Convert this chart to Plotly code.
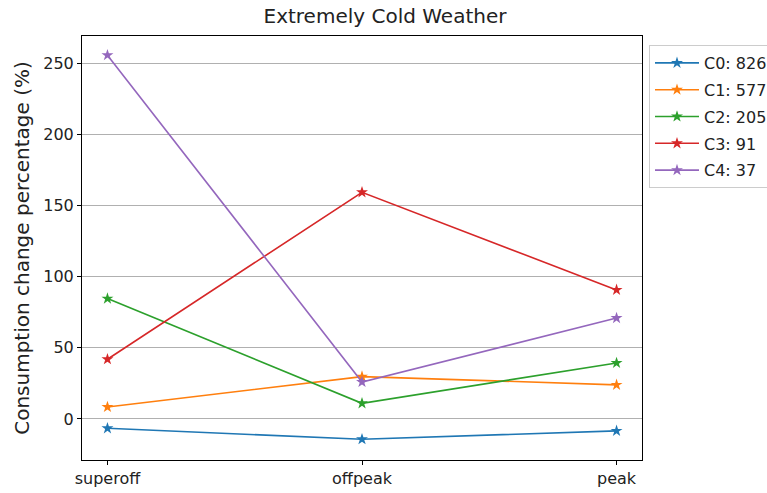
import plotly.graph_objects as go

categories = ["superoff", "offpeak", "peak"]
series_names = ["C0: 826", "C1: 577", "C2: 205", "C3: 91", "C4: 37"]
c0 = [-6.6, -14.3, -8.4]
c1 = [8.4, 29.8, 24.0]
c2 = [84.7, 11.0, 39.4]
c3 = [42.0, 159.5, 90.8]
c4 = [256.0, 26.0, 71.0]
series_values = [c0, c1, c2, c3, c4]
colors = ["#1f77b4", "#ff7f0e", "#2ca02c", "#d62728", "#9467bd"]
y_ticks = [0, 50, 100, 150, 200, 250]

fig = go.Figure()
for i, (name, vals, col) in enumerate(zip(series_names, series_values, colors)):
    fig.add_trace(go.Scatter(
        x=list(range(len(categories))), y=vals, name=name, mode="lines+markers",
        legendgroup=f"g{i}",
        line=dict(color=col, width=1.6),
        marker=dict(symbol="star", size=9, color=col),
    ))

fig.update_layout(
    width=767, height=493,
    margin=dict(l=82, r=125, t=36, b=33, autoexpand=False),
    paper_bgcolor="white", plot_bgcolor="white",
    font=dict(family="DejaVu Sans", size=16, color="#222"),
    title=dict(text="Extremely Cold Weather", x=385 / 767, xanchor="center",
               y=1 - 16 / 493, yanchor="middle", font=dict(size=20)),
    legend=dict(xref="container", yref="container", x=649 / 767, y=1 - 45 / 493,
                xanchor="left", yanchor="top",
                bordercolor="#cccccc", borderwidth=1, bgcolor="white",
                font=dict(size=16), tracegroupgap=3, itemwidth=44,
                traceorder="grouped"),
    showlegend=True,
)
fig.update_xaxes(
    range=[-0.1, 2.1], tickmode="array", tickvals=list(range(len(categories))),
    ticktext=categories, showgrid=False, zeroline=False,
    showline=True, linecolor="black", linewidth=1, mirror=True,
    ticks="outside", ticklen=4, tickcolor="black",
)
fig.update_yaxes(
    range=[-28.9, 269.5], tickvals=y_ticks, showgrid=True, gridcolor="#b0b0b0",
    gridwidth=1, zeroline=False,
    showline=True, linecolor="black", linewidth=1, mirror=True,
    ticks="outside", ticklen=4, tickcolor="black",
    title=dict(text="Consumption change percentage (%)", font=dict(size=20), standoff=8),
)
fig.write_html("out.html", config={"displayModeBar": False},
               post_script="document.body.style.margin='0px';")
